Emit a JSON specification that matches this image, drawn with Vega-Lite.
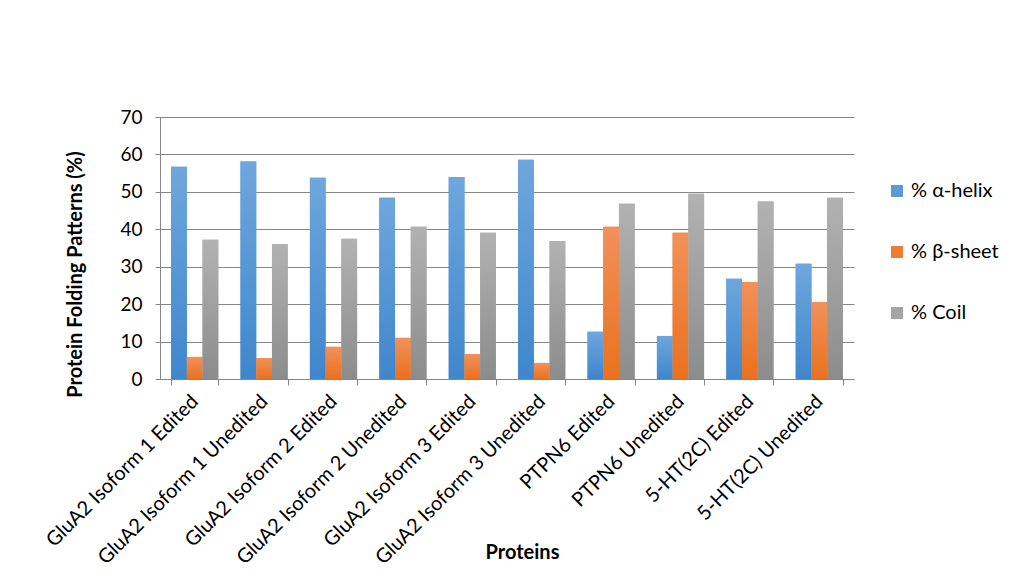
{
  "$schema": "https://vega.github.io/schema/vega-lite/v6.json",
  "width": 694,
  "height": 262,
  "autosize": "none",
  "padding": {"left": 160, "top": 117, "right": 170, "bottom": 209},
  "background": "white",
  "config": {"font": "Lato", "view": {"stroke": null}},
  "data": {
    "values": [
      {"protein": "GluA2 Isoform 1 Edited", "series": "% α-helix", "value": 56.7},
      {"protein": "GluA2 Isoform 1 Edited", "series": "% β-sheet", "value": 5.9},
      {"protein": "GluA2 Isoform 1 Edited", "series": "% Coil", "value": 37.2},
      {"protein": "GluA2 Isoform 1 Unedited", "series": "% α-helix", "value": 58.1},
      {"protein": "GluA2 Isoform 1 Unedited", "series": "% β-sheet", "value": 5.6},
      {"protein": "GluA2 Isoform 1 Unedited", "series": "% Coil", "value": 36.1},
      {"protein": "GluA2 Isoform 2 Edited", "series": "% α-helix", "value": 53.8},
      {"protein": "GluA2 Isoform 2 Edited", "series": "% β-sheet", "value": 8.6},
      {"protein": "GluA2 Isoform 2 Edited", "series": "% Coil", "value": 37.5},
      {"protein": "GluA2 Isoform 2 Unedited", "series": "% α-helix", "value": 48.4},
      {"protein": "GluA2 Isoform 2 Unedited", "series": "% β-sheet", "value": 11.0},
      {"protein": "GluA2 Isoform 2 Unedited", "series": "% Coil", "value": 40.7},
      {"protein": "GluA2 Isoform 3 Edited", "series": "% α-helix", "value": 54.0},
      {"protein": "GluA2 Isoform 3 Edited", "series": "% β-sheet", "value": 6.7},
      {"protein": "GluA2 Isoform 3 Edited", "series": "% Coil", "value": 39.1},
      {"protein": "GluA2 Isoform 3 Unedited", "series": "% α-helix", "value": 58.6},
      {"protein": "GluA2 Isoform 3 Unedited", "series": "% β-sheet", "value": 4.3},
      {"protein": "GluA2 Isoform 3 Unedited", "series": "% Coil", "value": 36.9},
      {"protein": "PTPN6 Edited", "series": "% α-helix", "value": 12.6},
      {"protein": "PTPN6 Edited", "series": "% β-sheet", "value": 40.7},
      {"protein": "PTPN6 Edited", "series": "% Coil", "value": 46.8},
      {"protein": "PTPN6 Unedited", "series": "% α-helix", "value": 11.5},
      {"protein": "PTPN6 Unedited", "series": "% β-sheet", "value": 39.1},
      {"protein": "PTPN6 Unedited", "series": "% Coil", "value": 49.5},
      {"protein": "5-HT(2C) Edited", "series": "% α-helix", "value": 26.8},
      {"protein": "5-HT(2C) Edited", "series": "% β-sheet", "value": 25.9},
      {"protein": "5-HT(2C) Edited", "series": "% Coil", "value": 47.4},
      {"protein": "5-HT(2C) Unedited", "series": "% α-helix", "value": 30.8},
      {"protein": "5-HT(2C) Unedited", "series": "% β-sheet", "value": 20.6},
      {"protein": "5-HT(2C) Unedited", "series": "% Coil", "value": 48.4}
    ]
  },
  "encoding": {
    "x": {
      "field": "protein",
      "type": "nominal",
      "sort": ["GluA2 Isoform 1 Edited", "GluA2 Isoform 1 Unedited", "GluA2 Isoform 2 Edited", "GluA2 Isoform 2 Unedited", "GluA2 Isoform 3 Edited", "GluA2 Isoform 3 Unedited", "PTPN6 Edited", "PTPN6 Unedited", "5-HT(2C) Edited", "5-HT(2C) Unedited"],
      "scale": {"paddingInner": 0.32, "paddingOuter": 0.16},
      "axis": {
        "title": "Proteins",
        "titleFontSize": 20,
        "titleFontWeight": "bold",
        "titleColor": "#000000",
        "titleX": 362,
        "titleY": 173,
        "titleBaseline": "middle",
        "labelAngle": -45,
        "labelAlign": "right",
        "labelBaseline": "middle",
        "labelFontSize": 20,
        "labelColor": "#000000",
        "labelPadding": 13,
        "labelLimit": 400,
        "tickBand": "extent",
        "tickSize": 6,
        "tickColor": "#868686",
        "domainColor": "#868686",
        "grid": false
      }
    },
    "xOffset": {
      "field": "series",
      "type": "nominal",
      "sort": ["% α-helix", "% β-sheet", "% Coil"],
      "scale": {"paddingInner": 0, "paddingOuter": 0}
    },
    "y": {
      "field": "value",
      "type": "quantitative",
      "scale": {"domain": [0, 70], "nice": false},
      "axis": {
        "title": "Protein Folding Patterns (%)",
        "titleFontSize": 20,
        "titleFontWeight": "bold",
        "titleColor": "#000000",
        "titleX": -85,
        "titleY": 157,
        "titleAngle": -90,
        "titleBaseline": "middle",
        "titleAlign": "center",
        "values": [0, 10, 20, 30, 40, 50, 60, 70],
        "labelFontSize": 19,
        "labelColor": "#000000",
        "labelPadding": 13,
        "tickSize": 5,
        "tickColor": "#868686",
        "domainColor": "#868686",
        "grid": true,
        "gridColor": "#868686"
      }
    }
  },
  "layer": [
    {
      "mark": {"type": "bar"},
      "encoding": {
        "color": {
          "field": "series",
          "type": "nominal",
          "sort": ["% α-helix", "% β-sheet", "% Coil"],
          "scale": {"domain": ["% α-helix", "% β-sheet", "% Coil"], "range": ["#5B9BD5", "#ED7D31", "#A5A5A5"]},
          "legend": {
            "title": null,
            "orient": "none",
            "legendX": 727,
            "legendY": 64,
            "symbolType": "square",
            "symbolSize": 144,
            "symbolStrokeWidth": 0,
            "labelFontSize": 20,
            "labelColor": "#000000",
            "labelOffset": 4,
            "rowPadding": 41
          }
        }
      }
    },
    {
      "transform": [{"filter": "datum.series === '% α-helix'"}],
      "mark": {"type": "bar", "color": {"gradient": "linear", "x1": 0, "y1": 0, "x2": 0, "y2": 1, "stops": [{"offset": 0, "color": "#6EA7DC"}, {"offset": 1, "color": "#3F86CD"}]}}
    },
    {
      "transform": [{"filter": "datum.series === '% β-sheet'"}],
      "mark": {"type": "bar", "color": {"gradient": "linear", "x1": 0, "y1": 0, "x2": 0, "y2": 1, "stops": [{"offset": 0, "color": "#F1915A"}, {"offset": 1, "color": "#EA711E"}]}}
    },
    {
      "transform": [{"filter": "datum.series === '% Coil'"}],
      "mark": {"type": "bar", "color": {"gradient": "linear", "x1": 0, "y1": 0, "x2": 0, "y2": 1, "stops": [{"offset": 0, "color": "#B2B2B2"}, {"offset": 1, "color": "#8C8C8C"}]}}
    }
  ]
}
